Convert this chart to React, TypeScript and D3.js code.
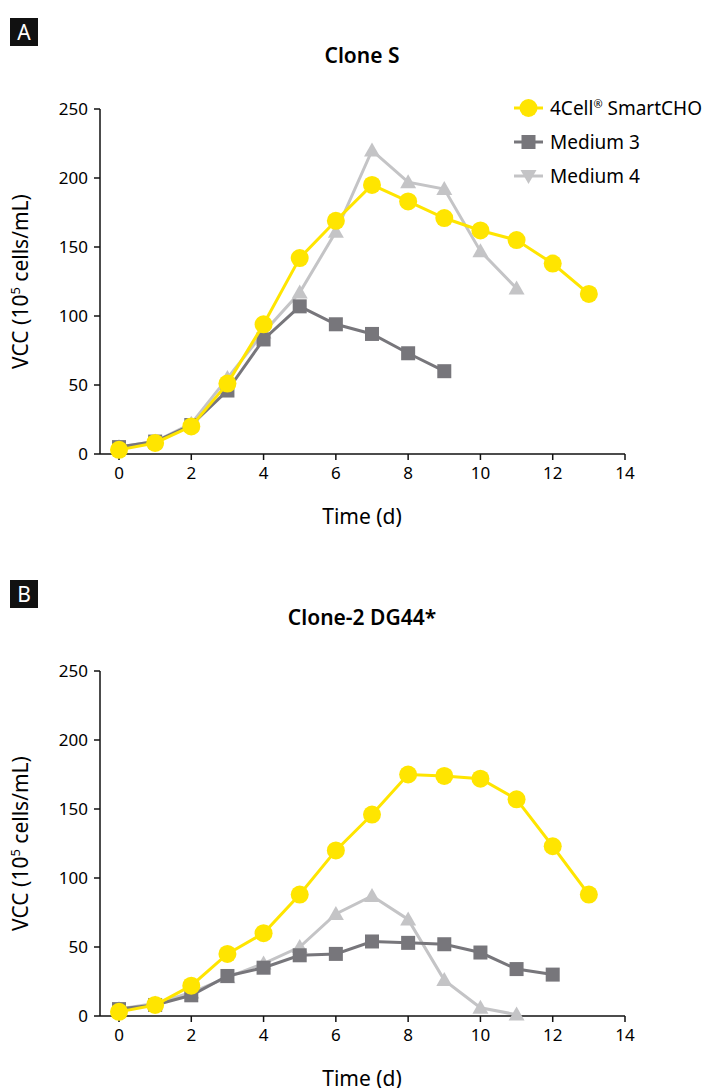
import React from "react";
import * as d3 from "d3";

const days = [0,1,2,3,4,5,6,7,8,9,10,11,12,13];
const xTicks = [0,2,4,6,8,10,12,14];
const yTicks = [0,50,100,150,200,250];
const seriesNames = ["4Cell\u00AE SmartCHO","Medium 3","Medium 4"];
const colors = ["#ffe500","#77767b","#c4c4c6"];
const aSmart = [3,8,20,51,94,142,169,195,183,171,162,155,138,116];
const aM3 = [5,9,21,46,83,107,94,87,73,60];
const aM4 = [5,9,22,55,88,117,161,220,197,192,147,120];
const bSmart = [3,8,22,45,60,88,120,146,175,174,172,157,123,88];
const bM3 = [5,8,15,29,35,44,45,54,53,52,46,34,30];
const bM4 = [5,9,17,28,38,50,74,87,70,26,6,1];

const font = "'Noto Sans', sans-serif";

function Marker({ kind, x, y, c, down }: any) {
  if (kind === 0) return <circle cx={x} cy={y} r={9} fill={c} />;
  if (kind === 1) return <rect x={x - 7} y={y - 7} width={14} height={14} fill={c} />;
  const s = down ? -1 : 1;
  return <path d={`M${x},${y - 8 * s}L${x + 8},${y + 6 * s}L${x - 8},${y + 6 * s}Z`} fill={c} />;
}

function Panel({ top, letter, title, data, legend }: any) {
  const x = d3.scaleLinear().domain([0, 14]).range([119, 625]);
  const y0 = top + 436, y1 = top + 91;
  const y = d3.scaleLinear().domain([0, 250]).range([y0, y1]);
  const line = d3.line<number>().x((_, i) => x(days[i])).y((v) => y(v));
  const order = [2, 1, 0];
  return (
    <g>
      <rect x={10} y={top} width={28} height={28} fill="#111" />
      <text x={24} y={top + 22} textAnchor="middle" fill="#fff" fontSize={21} fontFamily={font}>{letter}</text>
      <text x={362} y={top + 45} textAnchor="middle" fontSize={21} fontWeight={600} fontFamily={font}>{title}</text>
      <line x1={100} x2={100} y1={y1} y2={y0} stroke="#111" strokeWidth={1.5} />
      <line x1={100} x2={625} y1={y0} y2={y0} stroke="#111" strokeWidth={1.5} />
      {yTicks.map((t) => (
        <g key={t}>
          <line x1={94} x2={100} y1={y(t)} y2={y(t)} stroke="#111" strokeWidth={1.5} />
          <text x={88} y={y(t) + 6} textAnchor="end" fontSize={17} fontFamily={font}>{t}</text>
        </g>
      ))}
      {xTicks.map((t) => (
        <g key={t}>
          <line x1={x(t)} x2={x(t)} y1={y0} y2={y0 + 6} stroke="#111" strokeWidth={1.5} />
          <text x={x(t)} y={y0 + 25} textAnchor="middle" fontSize={17} fontFamily={font}>{t}</text>
        </g>
      ))}
      <text x={362} y={y0 + 70} textAnchor="middle" fontSize={21} fontFamily={font}>Time (d)</text>
      <text transform={`translate(28,${(y0 + y1) / 2}) rotate(-90)`} textAnchor="middle" fontSize={21} fontFamily={font}>
        VCC (10<tspan dy={-8} fontSize={13}>5</tspan><tspan dy={8}> cells/mL)</tspan>
      </text>
      {order.map((k) => (
        <g key={k}>
          <path d={line(data[k]) || ""} fill="none" stroke={colors[k]} strokeWidth={3} />
          {data[k].map((v: number, i: number) => (
            <Marker key={i} kind={k} x={x(days[i])} y={y(v)} c={colors[k]} />
          ))}
        </g>
      ))}
      {legend && seriesNames.map((n, k) => {
        const ly = top + 90 + k * 34;
        return (
          <g key={n}>
            <line x1={514} x2={543} y1={ly} y2={ly} stroke={colors[k]} strokeWidth={3} />
            <Marker kind={k} x={528.5} y={ly} c={colors[k]} down />
            <text x={550} y={ly + 7} fontSize={19} fontFamily={font}>
              {k === 0 ? <>4Cell<tspan dy={-7} fontSize={11}>®</tspan><tspan dy={7}> SmartCHO</tspan></> : n}
            </text>
          </g>
        );
      })}
    </g>
  );
}

export default function App() {
  return (
    <svg width={723} height={1088} style={{ display: "block", position: "absolute", left: 0, top: 0 }}>
      <rect width={723} height={1088} fill="#fff" />
      <Panel top={18} letter="A" title="Clone S" data={[aSmart, aM3, aM4]} legend />
      <Panel top={580} letter="B" title="Clone-2 DG44*" data={[bSmart, bM3, bM4]} />
    </svg>
  );
}
